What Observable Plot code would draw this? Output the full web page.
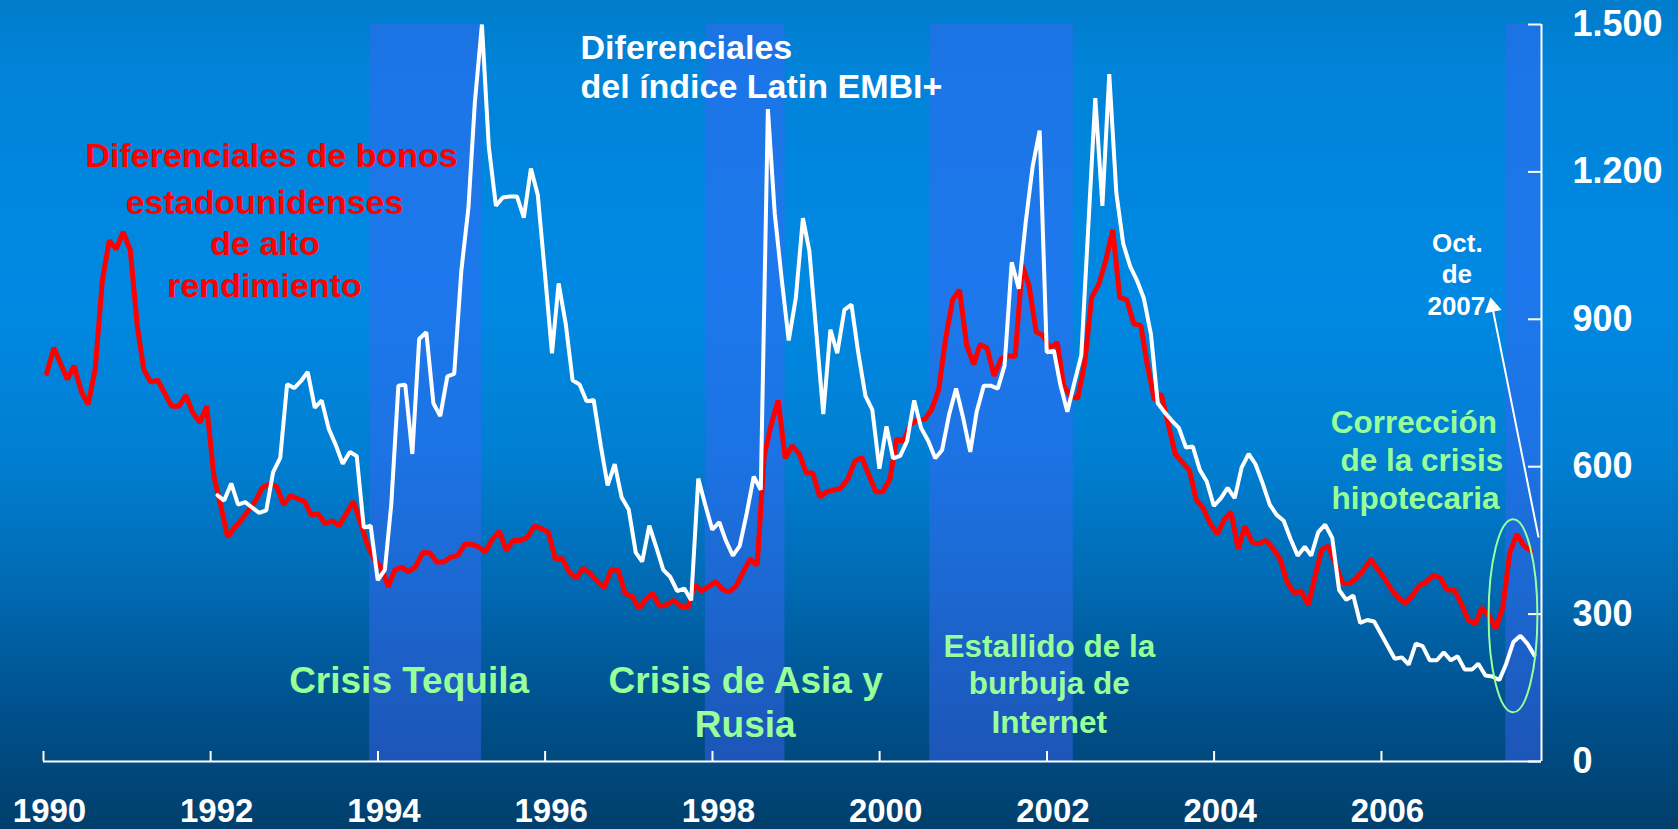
<!DOCTYPE html>
<html lang="es">
<head>
<meta charset="utf-8">
<title>Diferenciales</title>
<script src="https://cdn.jsdelivr.net/npm/d3@7"></script>
<script src="https://cdn.jsdelivr.net/npm/@observablehq/plot@0.6"></script>
<style>
  html, body { margin: 0; padding: 0; }
  body {
    width: 1678px; height: 829px; overflow: hidden;
    background: linear-gradient(to bottom, #007ccb 0%, #0083d8 8%, #0089e3 35%, #007fd2 55%, #006bb4 70%, #00508c 86%, #003f6b 100%);
    font-family: "Liberation Sans", Arial, sans-serif;
  }
  #chart svg { display: block; }
</style>
</head>
<body>
<div id="chart"></div>
<script>
// ---------- data (months counted from January 1990) ----------
const span = (a, b) => Array.from({length: b - a + 1}, (_, i) => a + i);

// US high-yield bond spreads (red), mid-month observations
const hyMonths = [0, 1, ...span(3, 28), ...span(30, 35), ...span(37, 112), ...span(114, 184), ...span(186, 213)];
const hyValues = [
  790, 842,
  778, 805, 753, 727, 799, 979, 1060, 1043, 1078, 1041, 885, 798, 772, 776, 749, 723, 723, 745, 710, 690, 723, 581, 519, 457, 476, 492,
  531, 558, 564, 560, 523, 541,
  529, 502, 504, 484, 490, 480, 504, 529, 489, 442, 412, 395, 356, 390, 395, 386, 397, 425, 425, 406, 406, 416, 419, 442, 442, 437,
  427, 452, 469, 430, 450, 450, 456, 479, 474, 467, 412, 413, 386, 373, 393, 383, 367, 354, 390, 390, 342, 336, 311, 330, 342, 316,
  319, 328, 316, 313, 360, 347, 356, 366, 350, 345, 358, 386, 412, 399, 623, 687, 735, 617, 643, 626, 587, 587, 538, 549,
  556, 575, 611, 619, 583, 549, 549, 575, 656, 653, 686, 696, 696, 716, 757, 860, 940, 960, 848, 808, 849, 841, 785, 820, 826, 824,
  1010, 968, 874, 867, 840, 853, 765, 743, 739, 812, 944, 971, 1020, 1082, 944, 940, 891, 887, 808, 736, 748, 686, 626, 609, 593,
  533, 515, 484, 463, 493, 508, 433, 479, 446, 443, 450, 433, 412, 365, 343, 347, 318, 373, 432, 438,
  363, 362, 374, 390, 411, 392, 372, 349, 334, 322, 337, 358, 365, 379, 374, 349, 349, 322, 288, 280, 313, 297, 270, 314, 424, 463, 439, 429
];

// Latin EMBI+ spreads (white), end-of-month observations
const embiMonths = [...span(24, 109), ...span(111, 148), ...span(150, 190), ...span(193, 213)];
const embiValues = [
  542, 531, 566, 523, 528, 517, 506, 511, 589, 618, 768, 760, 775, 793, 720, 735, 677, 645, 606, 630, 622, 476, 480, 369, 390, 523,
  765, 767, 626, 860, 874, 729, 703, 784, 789, 999, 1127, 1341, 1500, 1251, 1131, 1148, 1150, 1150, 1107, 1207, 1153, 994, 831, 973,
  891, 776, 767, 733, 736, 643, 562, 605, 538, 513, 425, 407, 480, 437, 390, 376, 347, 352, 328, 576, 523, 472, 487, 450, 419, 439,
  506, 580, 553, 1328, 1115, 979, 857, 943, 1106, 1040,
  707, 879, 831, 919, 930, 831, 744, 716, 596, 682, 617, 622, 652, 735, 679, 653, 617, 634, 707, 759, 699, 630, 712, 765, 765, 759,
  806, 1016, 962, 1097, 1213, 1284, 833, 836, 768, 712, 770, 827,
  1350, 1131, 1399, 1157, 1054, 1007, 977, 943, 870, 729, 710, 694, 679, 639, 641, 593, 570, 520, 536, 557, 536, 598, 626, 605, 566,
  523, 502, 490, 453, 419, 437, 419, 467, 482, 455, 349, 329, 338, 282, 288, 285,
  209, 212, 197, 240, 235, 206, 206, 222, 206, 214, 187, 187, 199, 175, 173, 166, 199, 243, 256, 240, 216
];

// shaded crisis periods (decimal years)
const crisisStart = [1993.90, 1997.914, 2000.598, 2007.488];
const crisisEnd   = [1995.24, 1998.867, 2002.315, 2007.917];

// axis ticks
const xTickYears  = [1990, 1992, 1994, 1996, 1998, 2000, 2002, 2004, 2006];
const xTickLabels = ["1990", "1992", "1994", "1996", "1998", "2000", "2002", "2004", "2006"];
const yTicks      = [0, 300, 600, 900, 1200, 1500];
const yTickLabels = ["0", "300", "600", "900", "1.200", "1.500"];

// ---------- helpers ----------
const yr = f => {
  const y = Math.floor(f);
  const a = Date.UTC(y, 0, 1), b = Date.UTC(y + 1, 0, 1);
  return new Date(a + (f - y) * (b - a));
};
const hy = hyMonths.map((m, i) => ({date: new Date(Date.UTC(1990, m, 15)), value: hyValues[i]}));
const embi = embiMonths.map((m, i) => ({date: new Date(Date.UTC(1990, m + 1, 0)), value: embiValues[i]}));
const crises = crisisStart.map((s, i) => ({start: yr(s), end: yr(crisisEnd[i])}));
const xTicks = xTickYears.map(y => new Date(Date.UTC(y, 0, 1)));
const xStart = new Date(Date.UTC(1990, 0, 1));
const xEnd = new Date(Date.UTC(2007, 11, 1));

// annotation layout (anchor in data units)
const FONT = "'Liberation Sans', Arial, sans-serif";
const GREEN = "#99ff99";
const redNote = [
  {t: "Diferenciales de bonos", x: 1992.727, y: 1209},
  {t: "estadounidenses", x: 1992.643, y: 1115},
  {t: "de alto", x: 1992.650, y: 1030},
  {t: "rendimiento", x: 1992.643, y: 946}
];
const whiteNote = [
  {t: "Diferenciales", x: 1996.423, y: 1430},
  {t: "del índice Latin EMBI+", x: 1996.423, y: 1350}
];
const bigGreen = [
  {t: "Crisis Tequila", x: 1994.372, y: 138.4},
  {t: "Crisis de Asia y", x: 1998.397, y: 138.4},
  {t: "Rusia", x: 1998.392, y: 49.5}
];
const smallGreen = [
  {t: "Estallido de la", x: 2002.030, y: 213.7},
  {t: "burbuja de", x: 2002.027, y: 136.4},
  {t: "Internet", x: 2002.026, y: 57},
  {t: "Corrección", x: 2006.388, y: 667.6},
  {t: "de la crisis", x: 2006.483, y: 590.5},
  {t: "hipotecaria", x: 2006.408, y: 513}
];
const octNote = [
  {t: "Oct.", x: 2006.908, y: 1036},
  {t: "de", x: 2006.902, y: 973},
  {t: "2007", x: 2006.896, y: 908}
];

const textMark = (rows, opts) => Plot.text(rows, {
  x: d => yr(d.x), y: "y", text: "t", fontFamily: FONT, fontWeight: "bold",
  lineAnchor: "bottom", textAnchor: "middle", ...opts
});

const ellipseMark = (index, scales) => {
  const cx = scales.x(yr(2007.580)), cy = scales.y(295.5);
  const rx = scales.x(yr(2007.872)) - cx;
  const ry = scales.y(295.5 - 196.4) - cy;
  const el = document.createElementNS("http://www.w3.org/2000/svg", "ellipse");
  el.setAttribute("cx", cx); el.setAttribute("cy", cy);
  el.setAttribute("rx", Math.abs(rx)); el.setAttribute("ry", Math.abs(ry));
  el.setAttribute("fill", "none"); el.setAttribute("stroke", GREEN); el.setAttribute("stroke-width", 2);
  return el;
};

const chart = Plot.plot({
  width: 1678, height: 829,
  marginLeft: 43, marginRight: 137, marginTop: 24, marginBottom: 68,
  style: {background: "transparent", color: "white", fontFamily: FONT, overflow: "visible"},
  x: {type: "utc", domain: [xStart, xEnd]},
  y: {domain: [0, 1500]},
  marks: [
    Plot.rect(crises, {x1: "start", x2: "end", y1: 0, y2: 1500, fill: "rgb(60,103,246)", fillOpacity: 0.47}),
    Plot.ruleY([0], {stroke: "white", strokeWidth: 2}),
    Plot.ruleX([xEnd], {y1: 0, y2: 1500, stroke: "white", strokeWidth: 2}),
    Plot.ruleX(xTicks, {x: d => d, y1: 0, y2: 0, insetTop: -10, stroke: "white", strokeWidth: 2}),
    Plot.ruleY(yTicks, {y: d => d, x1: xEnd, x2: xEnd, insetLeft: -13, stroke: "white", strokeWidth: 2}),
    Plot.line(hy, {x: "date", y: "value", stroke: "#ff0000", strokeWidth: 5, strokeLinejoin: "miter"}),
    Plot.line(embi, {x: "date", y: "value", stroke: "white", strokeWidth: 4, strokeLinejoin: "miter"}),
    ellipseMark,
    Plot.link([0], {x1: yr(2007.880), y1: 456, x2: yr(2007.327), y2: 925, stroke: "white", strokeWidth: 2}),
    Plot.dot([0], {x: yr(2007.327), y: 925.5, symbol: "triangle", r: 6.3, fill: "white", stroke: "none", rotate: -11}),
    textMark(redNote, {fill: "#ff0000", fontSize: 34}),
    textMark(whiteNote, {fill: "white", fontSize: 34, textAnchor: "start"}),
    textMark(bigGreen, {fill: GREEN, fontSize: 37}),
    textMark(smallGreen, {fill: GREEN, fontSize: 31.5}),
    textMark(octNote, {fill: "white", fontSize: 26}),
    Plot.axisX({ticks: xTicks, tickFormat: d => xTickLabels[xTicks.findIndex(t => +t === +d)],
      tickSize: 0, tickPadding: 37, dx: 6, fontSize: 33, fontWeight: "bold", fontFamily: FONT, label: null}),
    Plot.axisY({anchor: "right", ticks: yTicks, tickFormat: d => yTickLabels[yTicks.indexOf(d)],
      tickSize: 0, tickPadding: 31, fontSize: 36, fontWeight: "bold", fontFamily: FONT, label: null})
  ]
});
document.getElementById("chart").append(chart);
</script>
</body>
</html>
